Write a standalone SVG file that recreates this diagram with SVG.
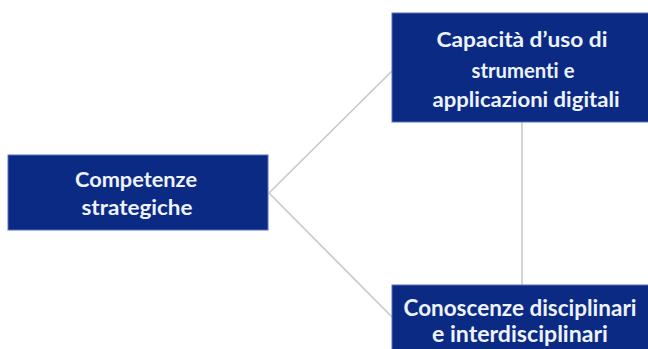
<svg xmlns="http://www.w3.org/2000/svg" width="648" height="349" viewBox="0 0 648 349">
<style>
.box{fill:#0b2a84;stroke:#5a6fc0;stroke-width:1}
.t{font-family:Lato,"Liberation Sans",sans-serif;font-weight:700;font-size:21.5px;fill:#eef3ff;text-anchor:middle;font-variant-ligatures:none}
.b{font-size:22px}
.c{stroke:#c8c8c8;stroke-width:1.6;fill:none}
</style>
<rect width="648" height="349" fill="#ffffff"/>
<g id="connectors">
<line class="c" x1="269" y1="193" x2="393" y2="70"/>
<line class="c" x1="269" y1="193" x2="393" y2="318"/>
<line class="c" x1="522" y1="122" x2="522" y2="285"/>
</g>
<g id="node-competenze">
<rect class="box" x="8" y="155" width="260" height="75"/>
<text class="t" x="136" y="187" textLength="122" lengthAdjust="spacingAndGlyphs">Competenze</text>
<text class="t" x="137" y="215" textLength="111" lengthAdjust="spacingAndGlyphs">strategiche</text>
</g>
<g id="node-capacita">
<rect class="box" x="392" y="13" width="262" height="109"/>
<text class="t" x="522" y="47" textLength="171" lengthAdjust="spacingAndGlyphs">Capacità d’uso di</text>
<text class="t" x="523" y="78" textLength="103" lengthAdjust="spacingAndGlyphs">strumenti e</text>
<text class="t" x="526" y="107" textLength="187" lengthAdjust="spacingAndGlyphs">applicazioni digitali</text>
</g>
<g id="node-conoscenze">
<rect class="box" x="392" y="285" width="262" height="70"/>
<text class="t b" x="520" y="316" textLength="233" lengthAdjust="spacingAndGlyphs">Conoscenze disciplinari</text>
<text class="t b" x="520" y="342" textLength="176" lengthAdjust="spacingAndGlyphs">e interdisciplinari</text>
</g>
</svg>
